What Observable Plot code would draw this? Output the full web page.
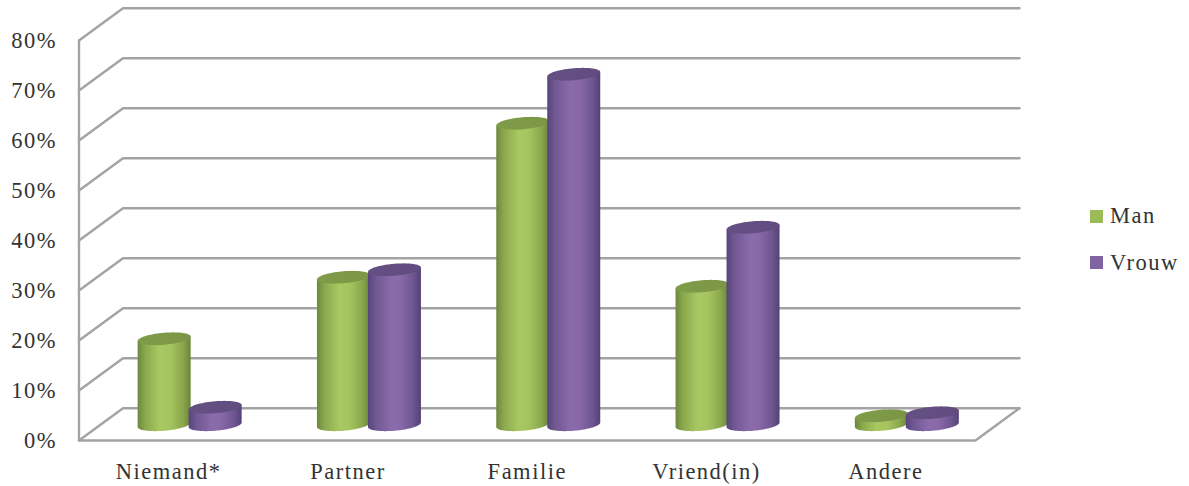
<!DOCTYPE html>
<html lang="nl">
<head>
<meta charset="utf-8">
<script src="https://cdn.jsdelivr.net/npm/d3@7"></script>
<script src="https://cdn.jsdelivr.net/npm/@observablehq/plot@0.6"></script>
<style>
  html, body { margin: 0; padding: 0; background: #fff; }
  #chart { position: relative; width: 1189px; height: 486px; overflow: hidden; }
  #legend { position: absolute; left: 1090px; top: 193px; color: #333;
            font: 22.5px "Liberation Serif", serif; letter-spacing: 1.5px; }
  #legend div { display: flex; align-items: center; height: 46.5px; }
  #legend i { display: block; width: 13px; height: 13px; margin-right: 7px; }
</style>
</head>
<body>
<div id="chart"></div>
<script>
// Responses per category, in percent
const categories = ["Niemand*", "Partner", "Familie", "Vriend(in)", "Andere"];
const man = [17.2, 29.5, 60.3, 27.7, 1.8];
const vrouw = [3.5, 31, 70.1, 39.5, 2.4];
const yTicks = [0, 10, 20, 30, 40, 50, 60, 70, 80];

// Oblique projection of the chart box: how far the back wall sits from the front
const depthX = 0.2454;
const depthY = 6.46;
// Cylinder shape in data units
const radiusX = 0.1478;
const radiusY = 1.2;
const tilt = 0.44;
const barOffset = 0.1422;
const floorY = 3.15;
const groupCenter = 0.5 + depthX / 2 - 0.0056;

const series = [
  {name: "Man", values: man, side: -1, body: "url(#manBody)", cap: "url(#manCap)", swatch: "#9bbb59"},
  {name: "Vrouw", values: vrouw, side: 1, body: "url(#vrouwBody)", cap: "url(#vrouwCap)", swatch: "#8064a2"}
];

const ellipsePoint = (cx, cy, t) => ({
  x: cx + radiusX * Math.cos(t),
  y: cy + radiusY * Math.sin(t) + tilt * Math.cos(t)
});
const arc = (cx, cy, from, to, steps = 48) =>
  d3.range(steps + 1).map((k) => ellipsePoint(cx, cy, from + (to - from) * k / steps));

// Body outline: lower half of the base ellipse, closed across the top
const bodyOutline = (cx, v) => [...arc(cx, floorY, 0, -Math.PI), ...arc(cx, v + floorY, Math.PI, 0, 1)];
const capOutline = (cx, v) => arc(cx, v + floorY, 0, 2 * Math.PI, 72);

const wallLine = "#a3a3a3";
const grid = [
  // Wall lines and their returns towards the value axis
  ...yTicks.map((v) => Plot.line(
    [{x: 0, y: v}, {x: depthX, y: v + depthY}, {x: 5 + depthX, y: v + depthY}],
    {x: "x", y: "y", stroke: wallLine, strokeWidth: 2.4, strokeLinejoin: "miter"}
  )),
  // Value axis, front edge of the floor and right floor edge
  Plot.line(
    [{x: 0, y: 80}, {x: 0, y: 0}, {x: 5, y: 0}, {x: 5 + depthX, y: depthY}],
    {x: "x", y: "y", stroke: wallLine, strokeWidth: 2.4, strokeLinejoin: "miter"}
  )
];

const cylinders = categories.flatMap((_, i) => series.flatMap((s) => {
  const cx = i + groupCenter + s.side * barOffset;
  const v = s.values[i];
  return [
    Plot.line(bodyOutline(cx, v), {x: "x", y: "y", fill: s.body, stroke: "none"}),
    Plot.line(capOutline(cx, v), {x: "x", y: "y", fill: s.cap, stroke: "none"})
  ];
}));

// Shared gradients for the cylinder shading
function shading() {
  const defs = d3.create("svg:defs");
  const gradient = (id, stops) => {
    const g = defs.append("linearGradient").attr("id", id)
      .attr("x1", 0).attr("x2", 1).attr("y1", 0).attr("y2", 0);
    stops.forEach(([offset, color]) => g.append("stop").attr("offset", offset).attr("stop-color", color));
  };
  gradient("manBody", [[0, "#6d873c"], [0.14, "#8aa84d"], [0.42, "#a8c862"], [0.62, "#a5c45f"], [0.86, "#88a64c"], [1, "#6a843a"]]);
  gradient("vrouwBody", [[0, "#58447a"], [0.14, "#6f5792"], [0.45, "#8b6cab"], [0.62, "#8868a8"], [0.86, "#6d5590"], [1, "#554176"]]);
  gradient("manCap", [[0, "#7f9c49"], [1, "#7b9646"]]);
  gradient("vrouwCap", [[0, "#655083"], [1, "#614c7f"]]);
  return defs.node();
}

const chart = Plot.plot({
  width: 1189,
  height: 486,
  marginLeft: 78.5,
  marginRight: 170,
  marginTop: 0,
  marginBottom: 46,
  style: {fontFamily: "'Liberation Serif', serif", fontSize: "22.5px", letterSpacing: "1.5px", color: "#333", background: "#fff"},
  x: {domain: [0, 5 + depthX]},
  y: {domain: [0, 88]},
  marks: [
    shading,
    ...grid,
    ...cylinders,
    Plot.axisY({ticks: yTicks, tickSize: 0, tickPadding: 22, tickFormat: (d) => `${d}%`, label: null}),
    Plot.axisX({ticks: categories.map((_, i) => i + 0.5), tickSize: 0, tickPadding: 23, tickFormat: (d) => categories[d - 0.5], label: null})
  ]
});

const root = document.getElementById("chart");
root.append(chart);

// Series key to the right of the plot
const legend = d3.select(root).append("div").attr("id", "legend");
for (const s of series) {
  const row = legend.append("div");
  row.append("i").style("background", s.swatch);
  row.append("span").text(s.name);
}
</script>
</body>
</html>
